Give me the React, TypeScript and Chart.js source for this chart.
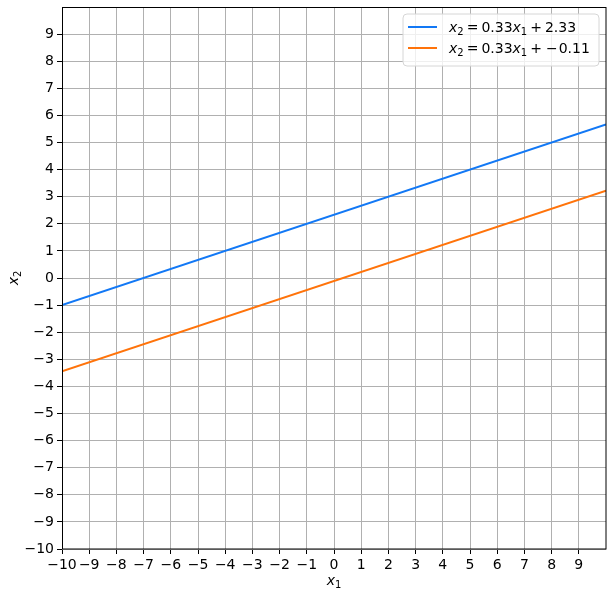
import React, { useEffect, useRef } from "react";
import { Chart, registerables } from "chart.js";

Chart.register(...registerables);

const lineX = [-10, 10];
const blueY = [-1.0, 5.667];
const orangeY = [-3.444, 3.222];
const axisMin = -10;
const axisMax = 10;
const blueColor = "rgb(18,120,245)";
const orangeColor = "rgb(255,115,10)";

type Seg = { t: string; it?: boolean; sub?: boolean; gap?: number };

const legend1: Seg[] = [
  { t: "x", it: true }, { t: "2", sub: true }, { t: "", gap: 3 }, { t: "=" }, { t: "", gap: 3 },
  { t: "0.33" }, { t: "x", it: true }, { t: "1", sub: true }, { t: "", gap: 3 }, { t: "+" }, { t: "", gap: 3 }, { t: "2.33" },
];
const legend2: Seg[] = [
  { t: "x", it: true }, { t: "2", sub: true }, { t: "", gap: 3 }, { t: "=" }, { t: "", gap: 3 },
  { t: "0.33" }, { t: "x", it: true }, { t: "1", sub: true }, { t: "", gap: 3 }, { t: "+" }, { t: "", gap: 4 }, { t: "−" }, { t: "", gap: 1 }, { t: "0.11" },
];
const xLabel: Seg[] = [{ t: "x", it: true }, { t: "1", sub: true }];
const yLabel: Seg[] = [{ t: "x", it: true }, { t: "2", sub: true }];

const FS = 14;
const FAM = "'DejaVu Sans', sans-serif";

function segFont(s: Seg) {
  const size = s.sub ? Math.round(FS * 0.7) : FS;
  return `${s.it ? "italic " : ""}${size}px ${FAM}`;
}
function measure(ctx: CanvasRenderingContext2D, segs: Seg[]) {
  let w = 0;
  for (const s of segs) {
    if (s.gap) { w += s.gap; continue; }
    ctx.font = segFont(s);
    w += ctx.measureText(s.t).width;
  }
  return w;
}
function drawMath(ctx: CanvasRenderingContext2D, segs: Seg[], x: number, baseline: number) {
  let cx = x;
  ctx.textBaseline = "alphabetic";
  ctx.textAlign = "left";
  ctx.fillStyle = "#000";
  for (const s of segs) {
    if (s.gap) { cx += s.gap; continue; }
    ctx.font = segFont(s);
    ctx.fillText(s.t, cx, baseline + (s.sub ? 3 : 0));
    cx += ctx.measureText(s.t).width;
  }
}

const decorPlugin = {
  id: "decor",
  afterDatasetsDraw(chart: any) {
    const ctx: CanvasRenderingContext2D = chart.ctx;
    const a = chart.chartArea;
    ctx.save();
    ctx.strokeStyle = "#000";
    ctx.lineWidth = 1;
    ctx.strokeRect(Math.round(a.left) + 0.5, Math.round(a.top) + 0.5, Math.round(a.right - a.left) - 1 + 0.5, Math.round(a.bottom - a.top) - 1 + 0.5);
    ctx.restore();
  },
  afterDraw(chart: any) {
    const ctx: CanvasRenderingContext2D = chart.ctx;
    const a = chart.chartArea;
    ctx.save();
    const wx = measure(ctx, xLabel);
    drawMath(ctx, xLabel, (a.left + a.right) / 2 - wx / 2, 585);
    const wy = measure(ctx, yLabel);
    ctx.translate(18, (a.top + a.bottom) / 2);
    ctx.rotate(-Math.PI / 2);
    drawMath(ctx, yLabel, -wy / 2, 0);
    ctx.restore();

    ctx.save();
    const bx = 403, by = 14, bw = 196, bh = 52, r = 4;
    ctx.beginPath();
    ctx.moveTo(bx + r, by);
    ctx.arcTo(bx + bw, by, bx + bw, by + bh, r);
    ctx.arcTo(bx + bw, by + bh, bx, by + bh, r);
    ctx.arcTo(bx, by + bh, bx, by, r);
    ctx.arcTo(bx, by, bx + bw, by, r);
    ctx.closePath();
    ctx.fillStyle = "rgba(255,255,255,0.8)";
    ctx.fill();
    ctx.strokeStyle = "#d6d6d6";
    ctx.lineWidth = 1;
    ctx.stroke();
    const rows = [
      { c: blueColor, segs: legend1, y: 27 },
      { c: orangeColor, segs: legend2, y: 48 },
    ];
    for (const row of rows) {
      ctx.strokeStyle = row.c;
      ctx.lineWidth = 2;
      ctx.beginPath();
      ctx.moveTo(408, row.y);
      ctx.lineTo(437, row.y);
      ctx.stroke();
      drawMath(ctx, row.segs, 449, row.y + 5);
    }
    ctx.restore();
  },
};

function fmt(v: number) {
  return v < 0 ? "−" + Math.abs(v) : String(v);
}

export default function App() {
  const ref = useRef<HTMLCanvasElement | null>(null);
  useEffect(() => {
    document.body.style.margin = "0";
    const canvas = ref.current!;
    const tickFont = { family: FAM, size: FS };
    const scaleBase = (isX: boolean) => ({
      type: "linear" as const,
      min: axisMin,
      max: axisMax,
      afterBuildTicks: (s: any) => {
        s.ticks = s.ticks.filter((t: any) => t.value < axisMax);
      },
      afterFit: (s: any) => {
        if (isX) {
          s.height = 48;
          s.paddingLeft = 0;
          s.paddingRight = 0;
        } else {
          s.width = 62;
          s.paddingTop = 0;
          s.paddingBottom = 0;
        }
      },
      ticks: {
        stepSize: 1,
        autoSkip: false,
        maxRotation: 0,
        minRotation: 0,
        padding: 3,
        color: "#000",
        font: tickFont,
        callback: (v: any) => fmt(Number(v)),
      },
      grid: {
        color: "#b0b0b0",
        lineWidth: 1,
        tickColor: "#000",
        tickLength: 5,
        drawTicks: true,
      },
      border: { display: false },
    });
    const chart = new Chart(canvas, {
      type: "scatter",
      data: {
        datasets: [
          {
            label: "blue",
            data: lineX.map((x, i) => ({ x, y: blueY[i] })),
            borderColor: blueColor,
            backgroundColor: blueColor,
            showLine: true,
            borderWidth: 2,
            pointRadius: 0,
          },
          {
            label: "orange",
            data: lineX.map((x, i) => ({ x, y: orangeY[i] })),
            borderColor: orangeColor,
            backgroundColor: orangeColor,
            showLine: true,
            borderWidth: 2,
            pointRadius: 0,
          },
        ],
      },
      options: {
        responsive: false,
        animation: false,
        devicePixelRatio: 1,
        layout: { padding: { top: 7, right: 6, left: 0, bottom: 0 } },
        plugins: { legend: { display: false }, tooltip: { enabled: false } },
        scales: {
          x: scaleBase(true),
          y: scaleBase(false),
        },
      },
      plugins: [decorPlugin],
    });
    return () => chart.destroy();
  }, []);
  return <canvas ref={ref} width={612} height={597} style={{ display: "block" }} />;
}
